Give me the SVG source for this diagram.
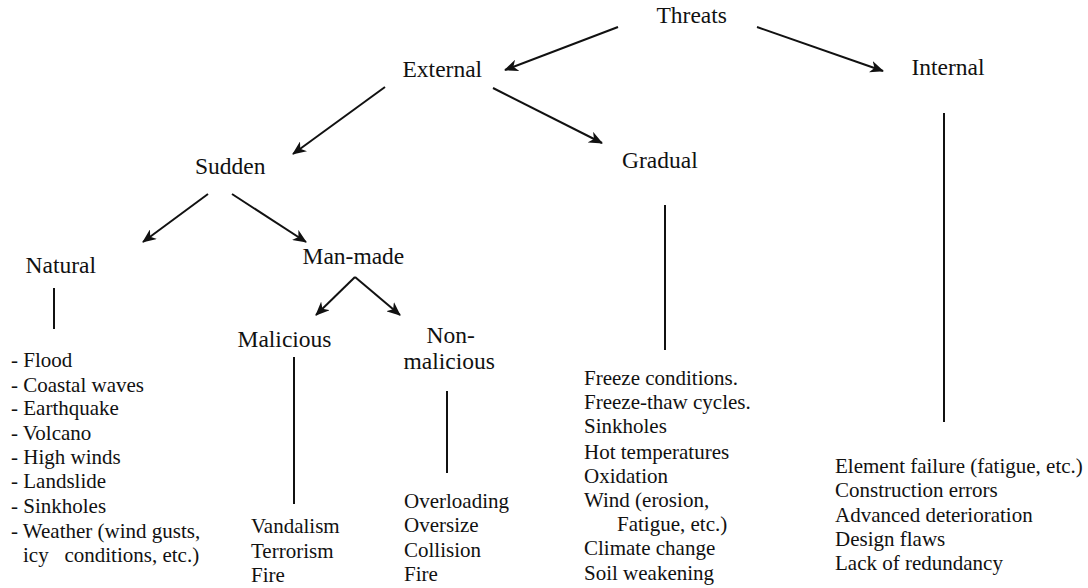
<svg xmlns="http://www.w3.org/2000/svg" width="1088" height="588" viewBox="0 0 1088 588">
  <style>
    text { font-family: "Liberation Serif", "Times New Roman", serif; fill: #111; }
    .head { font-size: 23.5px; }
    .item { font-size: 21px; }
    .link { stroke: #111; stroke-width: 2; fill: none; }
    .arrow { marker-end: url(#head); }
  </style>
  <defs>
    <marker id="head" viewBox="0 0 14 12" refX="13" refY="6" markerWidth="14" markerHeight="12" markerUnits="userSpaceOnUse" orient="auto">
      <path d="M0,0 L14,6 L0,12 L4,6 Z" fill="#111"/>
    </marker>
  </defs>
  <rect width="1088" height="588" fill="#fff"/>

  <!-- connectors -->
  <g id="connectors">
    <line class="link arrow" x1="618" y1="27" x2="505" y2="70"/>
    <line class="link arrow" x1="757" y1="27" x2="883" y2="71"/>
    <line class="link arrow" x1="385" y1="87" x2="293" y2="154"/>
    <line class="link arrow" x1="493" y1="88" x2="602" y2="143"/>
    <line class="link arrow" x1="208" y1="194" x2="143" y2="242"/>
    <line class="link arrow" x1="232" y1="194" x2="306" y2="242"/>
    <line class="link arrow" x1="355" y1="277" x2="316" y2="315"/>
    <line class="link arrow" x1="355" y1="277" x2="400" y2="315"/>
    <line class="link" x1="54" y1="288" x2="54" y2="329"/>
    <line class="link" x1="294" y1="357" x2="294" y2="504"/>
    <line class="link" x1="447" y1="391" x2="447" y2="473"/>
    <line class="link" x1="665" y1="205" x2="665" y2="350"/>
    <line class="link" x1="944" y1="113" x2="944" y2="422"/>
  </g>

  <!-- category nodes -->
  <g id="threats"><text class="head" x="656.5" y="23">Threats</text></g>
  <g id="external"><text class="head" x="402.5" y="77">External</text></g>
  <g id="internal"><text class="head" x="911.5" y="75">Internal</text></g>
  <g id="sudden"><text class="head" x="195" y="174">Sudden</text></g>
  <g id="gradual"><text class="head" x="622" y="168">Gradual</text></g>
  <g id="natural"><text class="head" x="25.5" y="273">Natural</text></g>
  <g id="man-made"><text class="head" x="302.5" y="264">Man-made</text></g>
  <g id="malicious"><text class="head" x="237.5" y="347">Malicious</text></g>
  <g id="non-malicious">
    <text class="head" x="426.5" y="343">Non-</text>
    <text class="head" x="403.5" y="369">malicious</text>
  </g>

  <!-- threat lists -->
  <g id="natural-list" class="item">
    <text class="item" x="11" y="367">- Flood</text>
    <text class="item" x="11" y="392">- Coastal waves</text>
    <text class="item" x="11" y="415">- Earthquake</text>
    <text class="item" x="11" y="440">- Volcano</text>
    <text class="item" x="11" y="464">- High winds</text>
    <text class="item" x="11" y="488">- Landslide</text>
    <text class="item" x="11" y="513">- Sinkholes</text>
    <text class="item" x="11" y="538">- Weather (wind gusts,</text>
    <text class="item" x="23" y="562" xml:space="preserve">icy   conditions, etc.)</text>
  </g>
  <g id="malicious-list">
    <text class="item" x="251" y="533">Vandalism</text>
    <text class="item" x="251" y="558">Terrorism</text>
    <text class="item" x="251" y="582">Fire</text>
  </g>
  <g id="non-malicious-list">
    <text class="item" x="404" y="508">Overloading</text>
    <text class="item" x="404" y="532">Oversize</text>
    <text class="item" x="404" y="557">Collision</text>
    <text class="item" x="404" y="581">Fire</text>
  </g>
  <g id="gradual-list">
    <text class="item" x="584" y="385">Freeze conditions.</text>
    <text class="item" x="584" y="409">Freeze-thaw cycles.</text>
    <text class="item" x="584" y="433">Sinkholes</text>
    <text class="item" x="584" y="459">Hot temperatures</text>
    <text class="item" x="584" y="483">Oxidation</text>
    <text class="item" x="584" y="507">Wind (erosion,</text>
    <text class="item" x="617" y="531">Fatigue, etc.)</text>
    <text class="item" x="584" y="555">Climate change</text>
    <text class="item" x="584" y="580">Soil weakening</text>
  </g>
  <g id="internal-list">
    <text class="item" x="835" y="473">Element failure (fatigue, etc.)</text>
    <text class="item" x="835" y="497">Construction errors</text>
    <text class="item" x="835" y="522">Advanced deterioration</text>
    <text class="item" x="835" y="546">Design flaws</text>
    <text class="item" x="835" y="570">Lack of redundancy</text>
  </g>
</svg>
